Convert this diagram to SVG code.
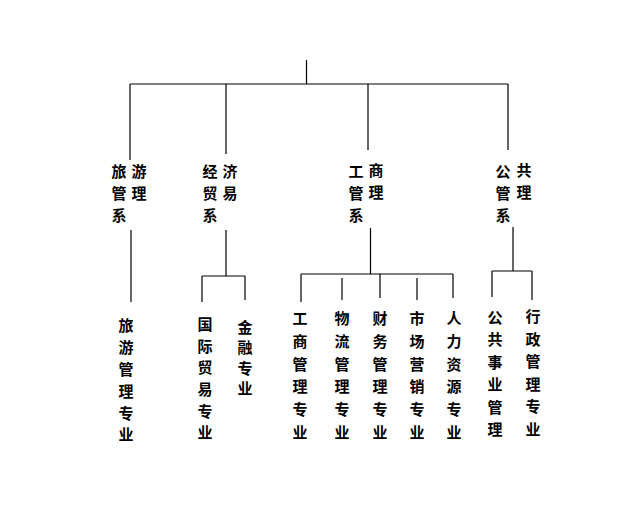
<svg xmlns="http://www.w3.org/2000/svg" width="620" height="514" viewBox="0 0 620 514">
<style>
.ln{stroke:#000;stroke-width:1.2;fill:none}
.t{font-family:"Noto Sans CJK SC","Noto Sans CJK TC",sans-serif;font-size:15px;font-weight:bold;fill:#000;text-anchor:middle;dominant-baseline:central}
</style>
<rect width="620" height="514" fill="#fff"/>
<g id="connectors">
<path class="ln" d="M306.5 60V84M130 84H508M130 84V160M226 84V154M368 84V150M508 84V150"/>
<path class="ln" d="M131 230V302"/>
<path class="ln" d="M226 230V276M202 276H245M202 276V302M245 276V300"/>
<path class="ln" d="M370.5 228V274M301 274H453M301 274V302M342 278V300M380 274V298M417 278V300M453 274V298"/>
<path class="ln" d="M513 227V271M492 271H532M492 271V297M532 271V300"/>
</g>
<g id="dept-lvyou"><text class="t"><tspan x="119" y="170">旅</tspan><tspan x="139" y="170">游</tspan><tspan x="119" y="192">管</tspan><tspan x="139" y="192">理</tspan><tspan x="119" y="214">系</tspan></text></g>
<g id="dept-jingmao"><text class="t"><tspan x="210" y="170">经</tspan><tspan x="230" y="170">济</tspan><tspan x="210" y="192">贸</tspan><tspan x="230" y="192">易</tspan><tspan x="210" y="214">系</tspan></text></g>
<g id="dept-gongshang"><text class="t"><tspan x="356" y="170">工</tspan><tspan x="376" y="169">商</tspan><tspan x="356" y="192">管</tspan><tspan x="376" y="191">理</tspan><tspan x="356" y="214">系</tspan></text></g>
<g id="dept-gonggong"><text class="t"><tspan x="503" y="170">公</tspan><tspan x="524" y="169">共</tspan><tspan x="503" y="192">管</tspan><tspan x="524" y="191">理</tspan><tspan x="503" y="214">系</tspan></text></g>
<g id="m-lvyou"><text class="t"><tspan x="126" y="324">旅</tspan><tspan x="126" y="346">游</tspan><tspan x="126" y="368">管</tspan><tspan x="126" y="390">理</tspan><tspan x="126" y="412">专</tspan><tspan x="126" y="433">业</tspan></text></g>
<g id="m-guoji"><text class="t"><tspan x="205" y="323">国</tspan><tspan x="205" y="345">际</tspan><tspan x="205" y="366">贸</tspan><tspan x="205" y="388">易</tspan><tspan x="205" y="410">专</tspan><tspan x="205" y="431">业</tspan></text></g>
<g id="m-jinrong"><text class="t"><tspan x="245" y="326">金</tspan><tspan x="245" y="346">融</tspan><tspan x="245" y="367">专</tspan><tspan x="245" y="387">业</tspan></text></g>
<g id="m-gongshang"><text class="t"><tspan x="300" y="317">工</tspan><tspan x="300" y="340">商</tspan><tspan x="300" y="363">管</tspan><tspan x="300" y="385">理</tspan><tspan x="300" y="408">专</tspan><tspan x="300" y="431">业</tspan></text></g>
<g id="m-wuliu"><text class="t"><tspan x="342" y="317">物</tspan><tspan x="342" y="340">流</tspan><tspan x="342" y="363">管</tspan><tspan x="342" y="385">理</tspan><tspan x="342" y="408">专</tspan><tspan x="342" y="431">业</tspan></text></g>
<g id="m-caiwu"><text class="t"><tspan x="380" y="317">财</tspan><tspan x="380" y="340">务</tspan><tspan x="380" y="363">管</tspan><tspan x="380" y="385">理</tspan><tspan x="380" y="408">专</tspan><tspan x="380" y="431">业</tspan></text></g>
<g id="m-shichang"><text class="t"><tspan x="417" y="317">市</tspan><tspan x="417" y="340">场</tspan><tspan x="417" y="363">营</tspan><tspan x="417" y="385">销</tspan><tspan x="417" y="408">专</tspan><tspan x="417" y="431">业</tspan></text></g>
<g id="m-renli"><text class="t"><tspan x="454" y="317">人</tspan><tspan x="454" y="340">力</tspan><tspan x="454" y="363">资</tspan><tspan x="454" y="385">源</tspan><tspan x="454" y="408">专</tspan><tspan x="454" y="431">业</tspan></text></g>
<g id="m-gonggong"><text class="t"><tspan x="495" y="316">公</tspan><tspan x="495" y="338">共</tspan><tspan x="495" y="361">事</tspan><tspan x="495" y="383">业</tspan><tspan x="495" y="406">管</tspan><tspan x="495" y="428">理</tspan></text></g>
<g id="m-xingzheng"><text class="t"><tspan x="533" y="315">行</tspan><tspan x="533" y="338">政</tspan><tspan x="533" y="360">管</tspan><tspan x="533" y="383">理</tspan><tspan x="533" y="405">专</tspan><tspan x="533" y="428">业</tspan></text></g>
</svg>
